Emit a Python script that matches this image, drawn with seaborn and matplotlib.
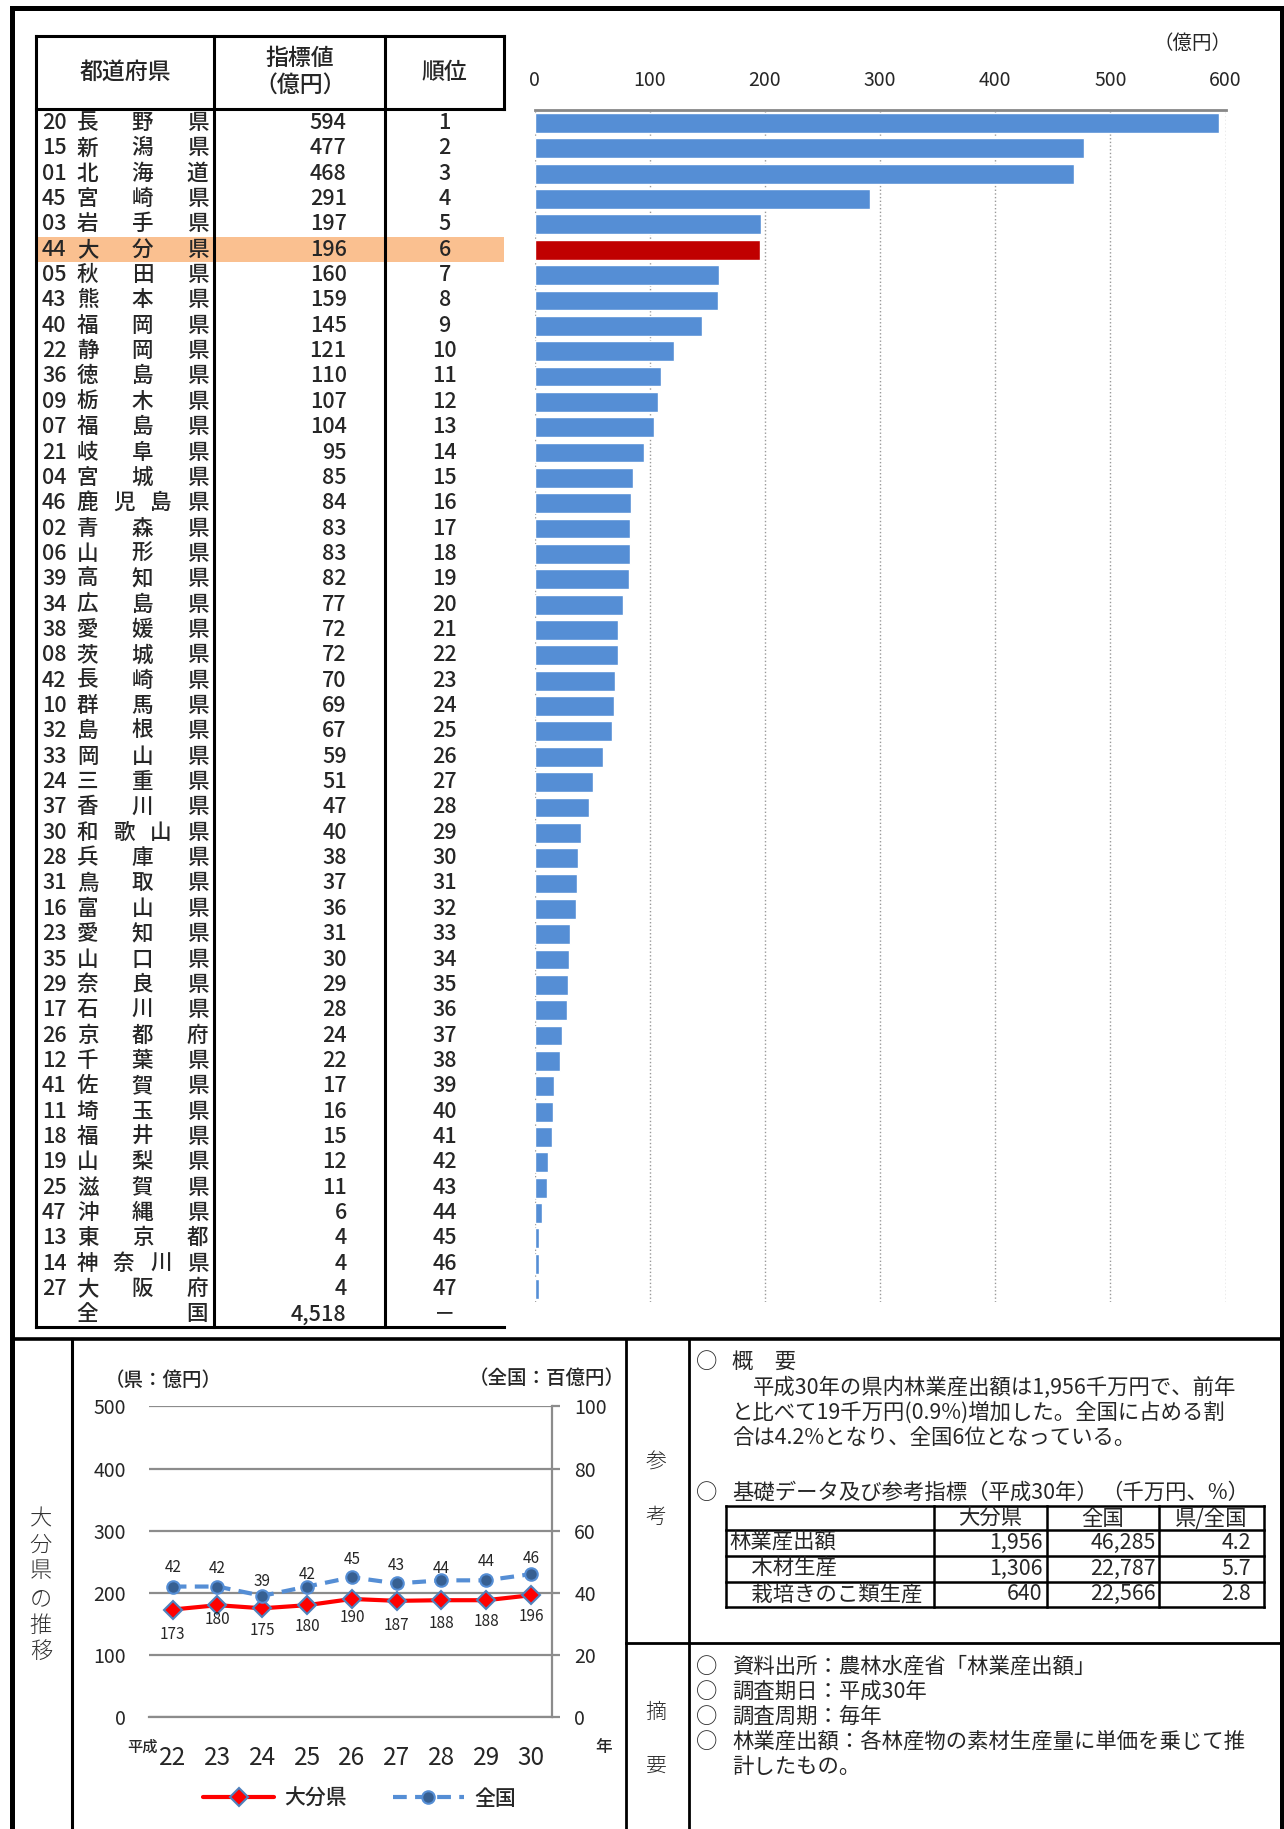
import numpy as np
import pandas as pd
import matplotlib.pyplot as plt
from matplotlib.lines import Line2D
from matplotlib.patches import Rectangle
import seaborn as sns

sns.set_style('white')
plt.rcParams['font.family'] = ['Noto Sans CJK JP', 'DejaVu Sans']

# ranking data (億円)
codes = ['20', '15', '01', '45', '03', '44', '05', '43', '40', '22', '36', '09', '07', '21',
         '04', '46', '02', '06', '39', '34', '38', '08', '42', '10', '32', '33', '24', '37',
         '30', '28', '31', '16', '23', '35', '29', '17', '26', '12', '41', '11', '18', '19',
         '25', '47', '13', '14', '27']
names = ['長野県', '新潟県', '北海道', '宮崎県', '岩手県', '大分県', '秋田県', '熊本県', '福岡県',
         '静岡県', '徳島県', '栃木県', '福島県', '岐阜県', '宮城県', '鹿児島県', '青森県', '山形県',
         '高知県', '広島県', '愛媛県', '茨城県', '長崎県', '群馬県', '島根県', '岡山県', '三重県',
         '香川県', '和歌山県', '兵庫県', '鳥取県', '富山県', '愛知県', '山口県', '奈良県', '石川県',
         '京都府', '千葉県', '佐賀県', '埼玉県', '福井県', '山梨県', '滋賀県', '沖縄県', '東京都',
         '神奈川県', '大阪府']
values = [594, 477, 468, 291, 197, 196, 160, 159, 145, 121, 110, 107, 104, 95, 85, 84, 83, 83,
          82, 77, 72, 72, 70, 69, 67, 59, 51, 47, 40, 38, 37, 36, 31, 30, 29, 28, 24, 22, 17,
          16, 15, 12, 11, 6, 4, 4, 4]
ranks = ['1', '2', '3', '4', '5', '6', '7', '8', '9', '10', '11', '12', '13', '14', '15', '16',
         '17', '18', '19', '20', '21', '22', '23', '24', '25', '26', '27', '28', '29', '30', '31',
         '32', '33', '34', '35', '36', '37', '38', '39', '40', '41', '42', '43', '44', '45', '46', '47']
total_value = '4,518'
highlight = '大分県'
bar_ticks = [0, 100, 200, 300, 400, 500, 600]

# trend data
years = ['22', '23', '24', '25', '26', '27', '28', '29', '30']
oita = [173, 180, 175, 180, 190, 187, 188, 188, 196]          # 県:億円
national = [42, 42, 39, 42, 45, 43, 44, 44, 46]              # 全国:百億円

# reference table (千万円、%)
ref_rows = ['林業産出額', '　木材生産', '　栽培きのこ類生産']
ref_oita = ['1,956', '1,306', '640']
ref_nat = ['46,285', '22,787', '22,566']
ref_ratio = ['4.2', '5.7', '2.8']

# label offsets (points) for data labels
oita_off = [-18, -10, -16, -15, -13, -18, -17, -15, -15]
nat_off = [14, 13, 10, 9, 12.5, 13, 8.5, 13.5, 11]

W, H = 1100, 1567
fig = plt.figure(figsize=(12.84, 18.29), dpi=100)
bg = fig.add_axes([0, 0, 1, 1])
bg.set_xlim(0, W)
bg.set_ylim(H, 0)
bg.axis('off')


def rect(x0, y0, x1, y1):
    return [x0 / W, 1 - y1 / H, (x1 - x0) / W, (y1 - y0) / H]


def hline(y, x0, x1, lw=2.2):
    bg.plot([x0, x1], [y, y], color='black', lw=lw, solid_capstyle='projecting')


def vline(x, y0, y1, lw=2.2):
    bg.plot([x, x], [y0, y1], color='black', lw=lw, solid_capstyle='projecting')


# ---- main table ----
row_top = 94.5
row_h = (1137 - row_top) / 48
hi = names.index(highlight)
bg.add_patch(Rectangle((31, row_top + hi * row_h), 401, row_h, color='#FAC090', lw=0, zorder=0))

fs = 15.5
tw = 'medium'
for i, (c, n, v, r) in enumerate(zip(codes, names, values, ranks)):
    yc = row_top + (i + 0.5) * row_h
    bg.text(36, yc, c, fontsize=fs, ha='left', va='center', fontweight=tw)
    xs = [75, 122, 169] if len(n) == 3 else [75, 106, 138, 169]
    for ch, xx in zip(n, xs):
        bg.text(xx, yc, ch, fontsize=fs, ha='center', va='center', fontweight=tw)
    bg.text(297, yc, str(v), fontsize=fs, ha='right', va='center', fontweight=tw)
    bg.text(381, yc, r, fontsize=fs, ha='center', va='center', fontweight=tw)
yc = row_top + 47.5 * row_h
bg.text(75, yc, '全', fontsize=fs, ha='center', va='center', fontweight=tw)
bg.text(169, yc, '国', fontsize=fs, ha='center', va='center', fontweight=tw)
bg.text(297, yc, total_value, fontsize=fs, ha='right', va='center', fontweight=tw)
bg.text(381, yc, '－', fontsize=fs, ha='center', va='center', fontweight=tw)

bg.text(107, 62, '都道府県', fontsize=16.5, ha='center', va='center', fontweight=tw)
bg.text(257, 50, '指標値', fontsize=16.5, ha='center', va='center', fontweight=tw)
bg.text(257, 73, '（億円）', fontsize=16.5, ha='center', va='center', fontweight=tw)
bg.text(381, 62, '順位', fontsize=16.5, ha='center', va='center', fontweight=tw)

hline(31, 31, 432)
hline(93, 31, 432)
hline(1137, 31, 432)
vline(31, 31, 1137)
vline(183, 31, 1137)
vline(330, 31, 1137)
vline(432, 31, 93)

# ---- bar chart ----
bar_df = pd.DataFrame({'name': names, 'value': values})
palette = {n: ('#C00000' if n == highlight else '#558ED5') for n in names}
axb = fig.add_axes(rect(458, row_top, 1050, row_top + 47 * row_h))
axb.set_facecolor('none')
sns.barplot(data=bar_df, x='value', y='name', hue='name', palette=palette, orient='h',
            width=0.78, saturation=1, legend=False, ax=axb)
axb.set_xlim(0, 600)
axb.set_ylim(46.5, -0.5)
axb.xaxis.tick_top()
axb.set_xticks(bar_ticks)
axb.set_xticklabels([str(t) for t in bar_ticks], fontsize=14)
axb.tick_params(axis='x', length=0, pad=14)
axb.set_yticks([])
axb.set_xlabel('')
axb.set_ylabel('')
axb.grid(axis='x', color='#999999', linestyle=':', lw=1)
axb.set_axisbelow(True)
for s in ['left', 'right', 'bottom']:
    axb.spines[s].set_visible(False)
axb.spines['top'].set_color('#888888')
axb.spines['top'].set_linewidth(2)
bg.text(1022, 37, '（億円）', fontsize=14, ha='center', va='center')

# ---- frame ----
hline(7, 10, 1098, lw=3.6)
vline(10, 7, H, lw=3.6)
vline(1098, 7, H, lw=3.6)
hline(1147, 10, 1098, lw=2.6)
vline(62, 1147, H, lw=2.2)
vline(536, 1147, H, lw=2.0)
vline(590, 1147, H, lw=2.0)
hline(1408, 536, 1098, lw=2.0)

for ch, yy in zip('大分県の推移', [1302, 1324, 1346, 1370, 1393, 1415]):
    bg.text(35, yy, ch, fontsize=16, ha='center', va='center', color='#333333', fontweight='light')
bg.text(562, 1253, '参', fontsize=15, ha='center', va='center', fontweight='light')
bg.text(562, 1300, '考', fontsize=15, ha='center', va='center', fontweight='light')
bg.text(562, 1467, '摘', fontsize=15, ha='center', va='center', fontweight='light')
bg.text(562, 1513, '要', fontsize=15, ha='center', va='center', fontweight='light')

# ---- trend chart ----
year_pos = [int(y) for y in years]
axl = fig.add_axes(rect(128, 1205, 473, 1471))
axl.set_facecolor('none')
sns.lineplot(x=year_pos, y=oita, ax=axl, color='#FF0000', lw=3, marker='D', markersize=9,
             markerfacecolor='#FF0000', markeredgecolor='#4F81BD', markeredgewidth=1.5)
axl.set_ylim(0, 500)
axl.set_yticks([0, 100, 200, 300, 400, 500])
axl.set_yticklabels(['0', '100', '200', '300', '400', '500'], fontsize=14)
axl.set_xlim(21.48, 30.47)
axl.set_xticks(year_pos)
axl.set_xticklabels(years, fontsize=17.5)
axl.tick_params(axis='y', length=0, pad=17)
axl.tick_params(axis='x', length=0, pad=20)
axl.grid(axis='y', color='#8C8C8C', lw=1.6)
axl.grid(axis='x', visible=False)
for s in ['left', 'right', 'top']:
    axl.spines[s].set_visible(False)
axl.spines['bottom'].set_color('#8C8C8C')
axl.spines['bottom'].set_linewidth(1.6)

ax2 = axl.twinx()
sns.lineplot(x=year_pos, y=national, ax=ax2, color='#558ED5', lw=3, linestyle=(0, (3.3, 2)),
             marker='o', markersize=9, markerfacecolor='#376092', markeredgecolor='#558ED5',
             markeredgewidth=1.5)
ax2.set_ylim(0, 100)
ax2.set_yticks([0, 20, 40, 60, 80, 100])
ax2.set_yticklabels(['0', '20', '40', '60', '80', '100'], fontsize=14)
ax2.tick_params(axis='y', length=6, width=1.6, color='#8C8C8C', pad=10)
ax2.grid(False)
for s in ['left', 'bottom', 'top']:
    ax2.spines[s].set_visible(False)
ax2.spines['right'].set_color('#8C8C8C')
ax2.spines['right'].set_linewidth(1.6)

for x, v, o in zip(year_pos, oita, oita_off):
    axl.annotate(str(v), (x, v), xytext=(0, o), textcoords='offset points',
                 ha='center', va='center', fontsize=11)
for x, v, o in zip(year_pos, national, nat_off):
    ax2.annotate(str(v), (x, v), xytext=(0, o), textcoords='offset points',
                 ha='center', va='center', fontsize=11)

bg.text(140, 1183, '（県：億円）', fontsize=14, ha='center', va='center', fontweight=tw)
bg.text(468, 1181, '（全国：百億円）', fontsize=14, ha='center', va='center', fontweight=tw)
bg.text(122, 1497, '平成', fontsize=11, ha='center', va='center', fontweight=tw)
bg.text(517, 1497, '年', fontsize=12, ha='center', va='center', fontweight=tw)

handles = [
    Line2D([], [], color='#FF0000', lw=3, marker='D', markersize=9, markerfacecolor='#FF0000',
           markeredgecolor='#4F81BD', markeredgewidth=1.5),
    Line2D([], [], color='#558ED5', lw=3, linestyle=(0, (3.3, 2)), marker='o', markersize=9,
           markerfacecolor='#376092', markeredgecolor='#558ED5', markeredgewidth=1.5),
]
leg = fig.legend(handles, ['大分県', '全国'], loc='center', bbox_to_anchor=(308 / W, 1 - 1541 / H),
                 ncol=2, frameon=False, fontsize=15, handlelength=3.4, columnspacing=2.2,
                 handletextpad=0.5)
for t in leg.get_texts():
    t.set_fontweight(tw)

# ---- text section ----
tfs = 15.4
bg.text(605, 1167, '○', fontsize=tfs, ha='center', va='center')
bg.text(627, 1167, '概　要', fontsize=tfs, ha='left', va='center')
para = ['平成30年の県内林業産出額は1,956千万円で、前年',
        'と比べて19千万円(0.9%)増加した。全国に占める割',
        '合は4.2%となり、全国6位となっている。']
for k, (line, xx) in enumerate(zip(para, [645, 627, 627])):
    bg.text(xx, 1189 + k * 21.5, line, fontsize=tfs, ha='left', va='center')

bg.text(605, 1279, '○', fontsize=tfs, ha='center', va='center')
bg.text(627, 1279, '基礎データ及び参考指標（平成30年）', fontsize=tfs, ha='left', va='center')
bg.text(1070, 1279, '（千万円、%）', fontsize=tfs, ha='right', va='center')

ty = [1290, 1311, 1333, 1355, 1377]
for yy in ty:
    hline(yy, 622, 1083, lw=1.8)
for xx in [622, 800, 897, 993, 1083]:
    vline(xx, 1290, 1377, lw=1.8)
for txt, xx in zip(['大分県', '全国', '県/全国'], [848, 945, 1038]):
    bg.text(xx, 1301, txt, fontsize=tfs, ha='center', va='center')
for k in range(3):
    yc = (ty[k + 1] + ty[k + 2]) / 2
    bg.text(625, yc, ref_rows[k], fontsize=tfs, ha='left', va='center')
    bg.text(893, yc, ref_oita[k], fontsize=tfs, ha='right', va='center')
    bg.text(990, yc, ref_nat[k], fontsize=tfs, ha='right', va='center')
    bg.text(1072, yc, ref_ratio[k], fontsize=tfs, ha='right', va='center')

notes = ['資料出所：農林水産省「林業産出額」', '調査期日：平成30年', '調査周期：毎年',
         '林業産出額：各林産物の素材生産量に単価を乗じて推']
for k, line in enumerate(notes):
    yy = 1428 + k * 21.5
    bg.text(605, yy, '○', fontsize=tfs, ha='center', va='center')
    bg.text(627, yy, line, fontsize=tfs, ha='left', va='center')
bg.text(627, 1428 + 4 * 21.5, '計したもの。', fontsize=tfs, ha='left', va='center')

fig.savefig('out.png', dpi=100)
